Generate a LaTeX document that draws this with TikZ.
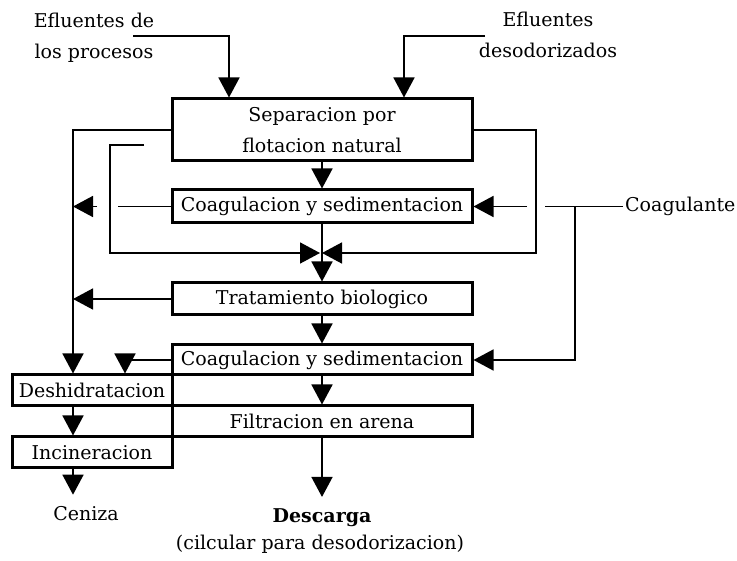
\documentclass[tikz,border=0pt]{standalone}
\usepackage{fontspec}
\setmainfont{DejaVu Serif}
\usetikzlibrary{arrows.meta,calc}
\newcommand{\flowsize}{\fontsize{19}{31}\selectfont}
\tikzset{
  procbox/.style={
    draw,
    line width=3pt,
    minimum width=300pt,
    minimum height=32pt,
    inner sep=0pt,
    font=\flowsize
  },
  tag/.style={
    inner sep=2pt,
    font=\flowsize
  },
  flowline/.style={
    line width=1.6pt
  },
  arrow/.style={
    -{Triangle[length=20pt,width=21pt]},
    line width=1.6pt
  }
}

\begin{document}
\begin{tikzpicture}[x=1pt,y=-1pt]
\useasboundingbox (0,0) rectangle (737,561);

% main treatment line
\node[procbox, minimum height=62pt, align=center] (sep) at (322,130) {Separacion por\\flotacion natural};
\node[procbox, minimum height=33pt] (coagA) at (322,206.5) {Coagulacion y sedimentacion};
\node[procbox] (trat) at (322,299) {Tratamiento biologico};
\node[procbox, minimum height=30pt] (coagB) at (322,360) {Coagulacion y sedimentacion};
\node[procbox, minimum height=31pt] (filt) at (322,421.5) {Filtracion en arena};

% sludge line
\node[procbox, minimum width=160pt, minimum height=31pt] (desh) at (92,390.5) {Deshidratacion};
\node[procbox, minimum width=160pt, minimum height=31pt] (incin) at (92,452.5) {Incineracion};

% inputs and outputs
\node[tag, align=center] (srcA) at (94,37.5) {Efluentes de\\los procesos};
\node[tag, align=center] (srcB) at (548,35.3) {Efluentes\\desodorizados};
\node[tag, anchor=west] (coag) at (623,206.5) {Coagulante};
\node[tag, anchor=base] (ash) at (86,520) {Ceniza};
\node[tag, anchor=base, font=\flowsize\bfseries] (out) at (322,522) {Descarga};
\node[tag, anchor=base] (note) at (320,549) {(cilcular para desodorizacion)};

% bus lines
\coordinate (feedA) at (133,36);
\coordinate (feedB) at (485,36);
\coordinate (inA) at (229,0);
\coordinate (inB) at (404,0);
\coordinate (lbus) at (73,0);
\coordinate (ibus) at (110,0);
\coordinate (rbus) at (536,0);
\coordinate (cbus) at (575,0);
\coordinate (drop) at (125,0);
\coordinate (loop) at (144,145);
\coordinate (join) at (321,253);

\draw[arrow] (feedA) -| (inA |- sep.north);
\draw[arrow] (feedB) -| (inB |- sep.north);
\draw[arrow] (sep.south) -- (coagA.north);
\draw[arrow] (coagA.south) -- (trat.north);
\draw[arrow] (trat.south) -- (coagB.north);
\draw[arrow] (coagB.south) -- (filt.north);
\draw[arrow, shorten >=9pt] (filt.south) -- (filt.south |- out.north);

% recycle to the junction
\draw[arrow] (loop) -| (ibus |- join) -- ([xshift=-1pt]join);
\draw[arrow] (sep.east) -| (rbus |- join) -- ([xshift=1pt]join);

% sludge to the left bus
\draw[arrow] (sep.west) -| (lbus |- desh.north);
\draw[flowline] (coagA.west) -- ([xshift=8pt]ibus |- coagA.west);
\draw[arrow] ([xshift=-13pt]ibus |- coagA.west) -- (lbus |- coagA.west);
\draw[arrow] (trat.west) -- (lbus |- trat.west);
\draw[arrow] (coagB.west) -| (drop |- desh.north);
\draw[arrow] (lbus |- desh.south) -- (lbus |- incin.north);
\draw[arrow, shorten >=9pt] (lbus |- incin.south) -- (lbus |- ash.north);

% coagulant feed
\draw[flowline] (coag.west) -- ([xshift=9pt]rbus |- coagA.east);
\draw[arrow] ([xshift=-9pt]rbus |- coagA.east) -- (coagA.east);
\draw[arrow] (cbus |- coagA.east) |- (coagB.east);
\end{tikzpicture}
\end{document}
